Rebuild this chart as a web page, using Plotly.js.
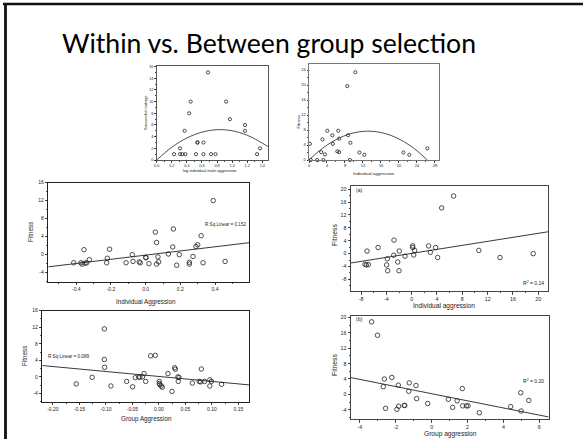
<!DOCTYPE html>
<html><head><meta charset="utf-8">
<script src="https://cdn.plot.ly/plotly-3.0.1.min.js"></script>
<style>html,body{margin:0;padding:0;background:#fff}#c{width:583px;height:439px}</style>
</head><body><div id="c"></div>
<script>
// ---- data ----
var matingsX = [0.68,0.45,0.43,0.37,0.92,0.97,1.17,1.17,0.54,0.54,0.62,0.31,1.37,0.23,0.31,0.34,0.38,0.52,0.62,0.72,0.78,1.33];
var matingsY = [15,10,8,5,10,7,6,5,3,3,3,2,2,1,1,1,1,1,1,1,1,1];
var matingsCurveX = [0,0.2,0.4,0.6,0.8,1.0,1.2,1.4,1.475];
var matingsCurveY = [0,2.18,3.77,4.77,5.19,5.01,4.24,2.89,2.3];

var topFitX = [10.3,8.5,3.0,4.07,6.5,5.2,6.7,8.7,9.2,5.3,6.3,6.7,2.7,3.55,11.2,12.3,21.0,22.3,26.3,0.2,0.4,1.8,3.2,9.1];
var topFitY = [23.4,19.7,5.5,7.8,7.8,6.6,5.7,6.6,4.6,4.3,2.3,2.1,2.1,1.5,2.0,1.4,2.0,1.4,3.1,4.3,0,0,0,0];
var topCurveX = [0,2,4,6,8,10,12,14,16,18,20,22,24,26.3];
var topCurveY = [0,2.16,3.97,5.42,6.51,7.25,7.64,7.66,7.33,6.65,5.61,4.21,2.46,0];

var indAggX = [0.39,0.16,0.056,0.063,0.32,0.30,0.29,0.156,-0.356,-0.208,-0.325,-0.221,-0.077,0.0,0.002,0.071,0.131,0.194,0.273,-0.415,-0.373,-0.367,-0.35,-0.34,-0.225,-0.113,-0.073,-0.037,-0.031,0.019,0.063,0.075,0.179,0.252,0.252,0.331,0.458];
var indAggY = [12.0,5.7,5.0,2.7,4.2,2.2,1.8,1.7,1.1,1.2,-1.1,-0.8,0,-0.6,-0.7,-0.5,0.15,0,-0.4,-1.8,-1.8,-2.1,-1.9,-1.8,-1.8,-1.8,-1.5,-1.6,-1.8,-2.0,-2.1,-1.6,-2.35,-1.7,-2.1,-1.8,-1.5];
var indAggLineX = [-0.5615,0.596];
var indAggLineY = [-2.7,2.65];

var indAggAX = [6.63,4.74,-2.79,-5.3,-7.05,-1.95,0.16,0.16,0.47,2.68,3.79,2.95,-2.84,-1.05,0.32,-3.84,4.1,10.6,13.95,19.2,-2.2,-7.37,-7.16,-6.84,-3.95,-3.79,-2.0];
var indAggAY = [17.9,14.2,4.2,1.9,0.8,0.8,2.4,1.9,1.0,2.4,1.9,0.4,-0.5,-0.8,-0.4,-1.6,-1.2,1.0,-1.2,0,-2.6,-3.3,-3.5,-3.4,-3.5,-5.3,-5.3];
var indAggALineX = [-9.58,21.58];
var indAggALineY = [-2.9,6.8];

var grpAggX = [-0.103,-0.103,-0.1025,-0.0157,-0.0069,-0.156,-0.126,-0.0906,-0.061,-0.0497,-0.0447,-0.038,-0.036,-0.031,-0.028,-0.025,0.0006,0.0006,0.002,0.0044,0.0063,0.017,0.0245,0.0296,0.031,0.0358,0.0377,0.0365,0.08,0.063,0.076,0.0786,0.086,0.096,0.099,0.096,0.118];
var grpAggY = [11.6,4.2,2.3,5.1,5.2,-1.7,-0.1,-2.2,-1.1,-2.4,-0.2,0,-0.1,0,0.8,-1.1,-1.1,-1.6,-1.9,-2.2,-2.5,0.8,-3.5,2.2,1.85,0,-0.15,-1.1,1.9,-1.5,-1.1,-1.2,-1.1,-0.7,-1.1,-2.2,-1.8];
var grpAggLineX = [-0.22,0.1704];
var grpAggLineY = [2.74,-1.94];

var grpAggBX = [-3.35,-3.02,-2.64,-2.22,-2.7,-1.86,-1.25,-0.875,-1.28,-0.84,-0.22,-2.57,-1.84,-1.94,-1.53,-1.50,0.93,1.42,1.17,1.71,1.73,1.94,2.03,2.66,4.41,4.97,4.99,5.42];
var grpAggBY = [18.9,15.4,4.0,4.4,2.0,2.4,3.0,2.3,0.8,-1.1,-2.4,-3.65,-3.1,-3.9,-2.9,-2.9,-1.3,-1.7,-3.4,1.5,-3.0,-3.0,-3.0,-4.8,-3.2,0.43,-4.35,-1.57];
var grpAggBLineX = [-4.5,6.53];
var grpAggBLineY = [4.35,-5.9];

// tick labels
var t1x = [0,0.2,0.4,0.6,0.8,1.0,1.2,1.4], t1xText = ['0.0','0.2','0.4','0.6','0.8','1.0','1.2','1.4'];
var t1y = [0,2,4,6,8,10,12,14,16], t1yText = ['0','2','4','6','8','10','12','14','16'];
var t2x = [0,4,8,12,16,20,24,28], t2xText = ['0','4','8','12','16','20','24','28'];
var t2y = [0,4,8,12,16,20,24], t2yText = ['0','4','8','12','16','20','24'];
var t3x = [-0.4,-0.2,0,0.2,0.4], t3xText = ['-0.4','-0.2','0.0','0.2','0.4'];
var t3y = [-4,0,4,8,12,16], t3yText = ['-4','0','4','8','12','16'];
var t4x = [-8,-4,0,4,8,12,16,20], t4xText = ['-8','-4','0','4','8','12','16','20'];
var t4y = [-8,-4,0,4,8,12,16,20], t4yText = ['-8','-4','0','4','8','12','16','20'];
var t5x = [-0.2,-0.15,-0.1,-0.05,0,0.05,0.1,0.15], t5xText = ['-0.20','-0.15','-0.10','-0.05','0.00','0.05','0.10','0.15'];
var t5y = [-4,0,4,8,12,16], t5yText = ['-4','0','4','8','12','16'];
var t6x = [-4,-2,0,2,4,6], t6xText = ['-4','-2','0','2','4','6'];
var t6y = [-4,0,4,8,12,16,20], t6yText = ['-4','0','4','8','12','16','20'];

// ---- layout helpers ----
var W = 583, H = 439;
function px(v){return v/W;}
function py(v){return 1 - v/H;}
var AF = 'Liberation Sans';

function axis(dom, range, tv, tt, fs, anchor, minorD, lc, tl){
  var a = {domain: dom, range: range, tickmode:'array', tickvals: tv, ticktext: tt,
    showline:true, mirror:true, linecolor: lc, linewidth:1, ticks:'outside', ticklen: tl, tickwidth:0.8,
    tickcolor:'#222', showgrid:false, zeroline:false, anchor: anchor,
    tickfont:{family:AF, size: fs, color:'#222'}, fixedrange:true};
  if (minorD) a.minor = {dtick: minorD, tick0: 0, ticks:'outside', ticklen: tl*0.55, tickcolor:'#222', showgrid:false};
  return a;
}

var mk = function(size){ return {symbol:'circle-open', size:size, color:'#222', line:{width:0.8, color:'#222'}}; };

var traces = [
  {x: matingsX, y: matingsY, xaxis:'x', yaxis:'y', mode:'markers', type:'scatter', marker: mk(3.2), cliponaxis:false},
  {x: matingsCurveX, y: matingsCurveY, xaxis:'x', yaxis:'y', mode:'lines', line:{shape:'spline', color:'#222', width:0.8}},
  {x: topFitX, y: topFitY, xaxis:'x2', yaxis:'y2', mode:'markers', type:'scatter', marker: mk(3.2), cliponaxis:false},
  {x: topCurveX, y: topCurveY, xaxis:'x2', yaxis:'y2', mode:'lines', line:{shape:'spline', color:'#222', width:0.8}},
  {x: indAggX, y: indAggY, xaxis:'x3', yaxis:'y3', mode:'markers', type:'scatter', marker: mk(4.5)},
  {x: indAggLineX, y: indAggLineY, xaxis:'x3', yaxis:'y3', mode:'lines', line:{color:'#222', width:0.9}},
  {x: indAggAX, y: indAggAY, xaxis:'x4', yaxis:'y4', mode:'markers', type:'scatter', marker: mk(4.5)},
  {x: indAggALineX, y: indAggALineY, xaxis:'x4', yaxis:'y4', mode:'lines', line:{color:'#222', width:0.9}},
  {x: grpAggX, y: grpAggY, xaxis:'x5', yaxis:'y5', mode:'markers', type:'scatter', marker: mk(4.5)},
  {x: grpAggLineX, y: grpAggLineY, xaxis:'x5', yaxis:'y5', mode:'lines', line:{color:'#222', width:0.9}},
  {x: grpAggBX, y: grpAggBY, xaxis:'x6', yaxis:'y6', mode:'markers', type:'scatter', marker: mk(4.5)},
  {x: grpAggBLineX, y: grpAggBLineY, xaxis:'x6', yaxis:'y6', mode:'lines', line:{color:'#222', width:0.9}}
];

function lab(text, x, y, fs, angle, xanchor){
  return {text: text, xref:'paper', yref:'paper', x: px(x), y: py(y), showarrow:false,
    xanchor: xanchor || 'center', yanchor:'middle', textangle: angle || 0,
    font:{family:AF, size: fs, color:'#222'}};
}

var annotations = [
  {text:'Within vs. Between group selection', xref:'paper', yref:'paper', x: px(269), y: py(43),
   showarrow:false, xanchor:'center', yanchor:'middle', font:{family:'Lato', size:26.6, color:'#000'}},
  lab('Successful matings', 145, 113, 4, -90),
  lab('log individual male aggression', 210, 171, 4),
  lab('Fitness', 298, 121.5, 4.2, -90),
  lab('Individual aggression', 374, 173.5, 4.4),
  lab('Fitness', 30, 232, 6.3, -90),
  lab('Individual Aggression', 146, 301.5, 6.3),
  lab('R Sq Linear = 0.152', 248, 224, 4.6, 0, 'right'),
  lab('Fitness', 334, 235, 6.8, -90),
  lab('Individual aggression', 444, 306, 6.6),
  lab('(a)', 354, 190, 5, 0, 'left'),
  lab('R<sup>2</sup> = 0.14', 545.5, 283, 5, 0, 'right'),
  lab('Fitness', 24, 356, 6.3, -90),
  lab('Group Aggression', 146.5, 419, 6.3),
  lab('R Sq Linear = 0.089', 45.5, 356.5, 4.6, 0, 'left'),
  lab('Fitness', 334, 365, 6.8, -90),
  lab('Group aggression', 450, 434, 6.6),
  lab('(b)', 354, 318.5, 5, 0, 'left'),
  lab('R<sup>2</sup> = 0.20', 545.5, 381, 5, 0, 'right')
];

var layout = {
  width: W, height: H, margin:{l:0,r:0,t:0,b:0}, showlegend:false,
  paper_bgcolor:'#fff', plot_bgcolor:'#fff',
  xaxis:  axis([px(156.7), px(268)], [0,1.475], t1x, t1xText, 3.8, 'y', 0.1, '#555', 1.5),
  yaxis:  axis([py(160), py(66)], [0,16.1], t1y, t1yText, 3.8, 'x', 1, '#555', 1.5),
  xaxis2: axis([px(309), px(439)], [0,28.9], t2x, t2xText, 4, 'y2', 2, '#777', 1.5),
  yaxis2: axis([py(160), py(64)], [0,25.6], t2y, t2yText, 4, 'x2', 2, '#777', 1.5),
  xaxis3: axis([px(48.3), px(249)], [-0.5615,0.596], t3x, t3xText, 5, 'y3', 0.1, '#222', 2.5),
  yaxis3: axis([py(281.7), py(182.5)], [-6,16], t3y, t3yText, 5, 'x3', 2, '#222', 2.5),
  xaxis4: axis([px(351), px(548.3)], [-9.58,21.58], t4x, t4xText, 5.3, 'y4', 2, '#444', 2.5),
  yaxis4: axis([py(291), py(186)], [-11.6,21], t4y, t4yText, 5.3, 'x4', 2, '#444', 2.5),
  xaxis5: axis([px(42.3), px(249.3)], [-0.22,0.1704], t5x, t5xText, 5, 'y5', 0.025, '#222', 2.5),
  yaxis5: axis([py(401.7), py(310.7)], [-6,16], t5y, t5yText, 5, 'x5', 2, '#222', 2.5),
  xaxis6: axis([px(351), px(548.7)], [-4.5,6.53], t6x, t6xText, 5.3, 'y6', 1, '#444', 2.5),
  yaxis6: axis([py(419), py(315.7)], [-6.43,20.5], t6y, t6yText, 5.3, 'x6', 2, '#444', 2.5),
  annotations: annotations,
  shapes: [
    {type:'line', xref:'paper', yref:'paper', x0: px(3), x1: 1, y0: py(4), y1: py(4), line:{color:'#111', width:2.5}},
    {type:'line', xref:'paper', yref:'paper', x0: px(5.5), x1: px(5.5), y0: py(3), y1: 0, line:{color:'#111', width:2.8}}
  ]
};

Plotly.newPlot('c', traces, layout, {staticPlot:true, displayModeBar:false});
</script>
</body></html>
